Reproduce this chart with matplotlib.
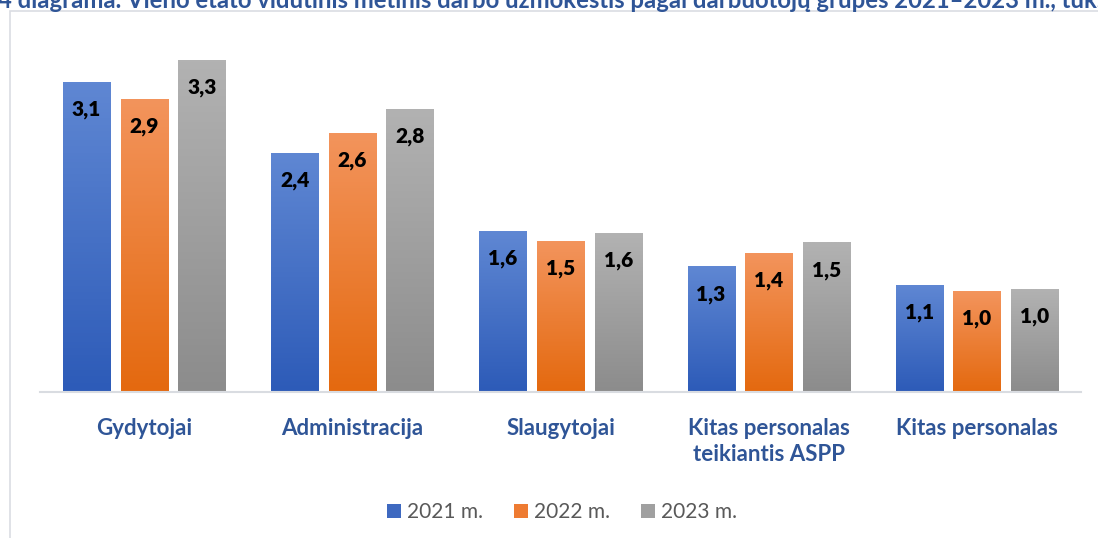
import numpy as np
import matplotlib
matplotlib.use("Agg")
import matplotlib.pyplot as plt
from matplotlib.colors import LinearSegmentedColormap
from matplotlib.patches import Rectangle

categories = ["Gydytojai", "Administracija", "Slaugytojai",
              "Kitas personalas\nteikiantis ASPP", "Kitas personalas"]
years = ["2021 m.", "2022 m.", "2023 m."]
v2021 = [3.10, 2.39, 1.61, 1.26, 1.07]
v2022 = [2.93, 2.59, 1.51, 1.39, 1.01]
v2023 = [3.32, 2.83, 1.59, 1.50, 1.03]
title = ("4 diagrama. Vieno etato vidutinis metinis darbo užmokestis pagal "
         "darbuotojų grupes 2021–2023 m., tūkst. Eur")

# gradient colours (top, bottom) per series
grads = [("#5f87d3", "#2d5bb8"), ("#f3945c", "#e4690f"), ("#b2b2b2", "#8c8c8c")]
legend_cols = ["#3e69c0", "#ee7b32", "#a0a0a0"]

W, H = 1098, 538
fig = plt.figure(figsize=(W / 100, H / 100), dpi=100)
fig.patch.set_facecolor("white")

# chart frame (cut by the screenshot on right/bottom)
fig.add_artist(Rectangle((10 / W, -0.1), 1.2, (H - 11) / H + 0.1,
                         transform=fig.transFigure, fill=False,
                         edgecolor="#dadde3", linewidth=1.2))

# title, clipped at the top of the screenshot
fig.text(-2 / W, 1 - 8 / H, title, ha="left", va="baseline",
         fontsize=17.2, fontweight="bold", color="#2f5597", family="Lato")

ax = fig.add_axes([40 / W, (H - 392) / H, (1081 - 40) / W, (392 - 40) / H])
x = np.arange(len(categories))
width = 0.226
offs = [-0.277, 0, 0.277]

for series, off, (ctop, cbot) in zip([v2021, v2022, v2023], offs, grads):
    bars = ax.bar(x + off, series, width, color="none", edgecolor="none", zorder=2)
    cmap = LinearSegmentedColormap.from_list("g", [cbot, ctop])
    for b, v in zip(bars, series):
        grad = np.linspace(0, 1, 100).reshape(-1, 1)
        im = ax.imshow(grad, cmap=cmap, origin="lower", aspect="auto",
                       extent=(b.get_x(), b.get_x() + b.get_width(), 0, b.get_height()),
                       zorder=2)
        im.set_clip_path(b)
        ax.annotate(f"{v:.1f}".replace(".", ","), (b.get_x() + b.get_width() / 2, v),
                    xytext=(0, -28), textcoords="offset pixels", ha="center",
                    va="center", fontsize=15, fontweight="heavy", color="black",
                    family="Lato", zorder=3)

ax.set_xlim(-0.5, len(categories) - 0.5)
ax.set_ylim(0, 3.52)
ax.set_yticks([])
ax.set_xticks(x)
ax.set_xticklabels(categories, fontsize=16, fontweight="bold", color="#2f5597",
                   family="Lato", linespacing=1.3)
ax.tick_params(axis="x", length=0, pad=19)
for s in ["top", "right", "left"]:
    ax.spines[s].set_visible(False)
ax.spines["bottom"].set_color("#d9dce1")
ax.spines["bottom"].set_linewidth(1.5)
ax.patch.set_alpha(0)

handles = [Rectangle((0, 0), 1, 1, facecolor=c) for c in legend_cols]
fig.legend(handles, years, loc="center", bbox_to_anchor=(562 / W, 1 - 512 / H),
           ncol=3, frameon=False, labelcolor="#595959",
           handlelength=0.65, handleheight=0.65, handletextpad=0.3,
           columnspacing=1.5, prop={"family": "Lato", "size": 15})

fig.savefig("out.png", dpi=100)
